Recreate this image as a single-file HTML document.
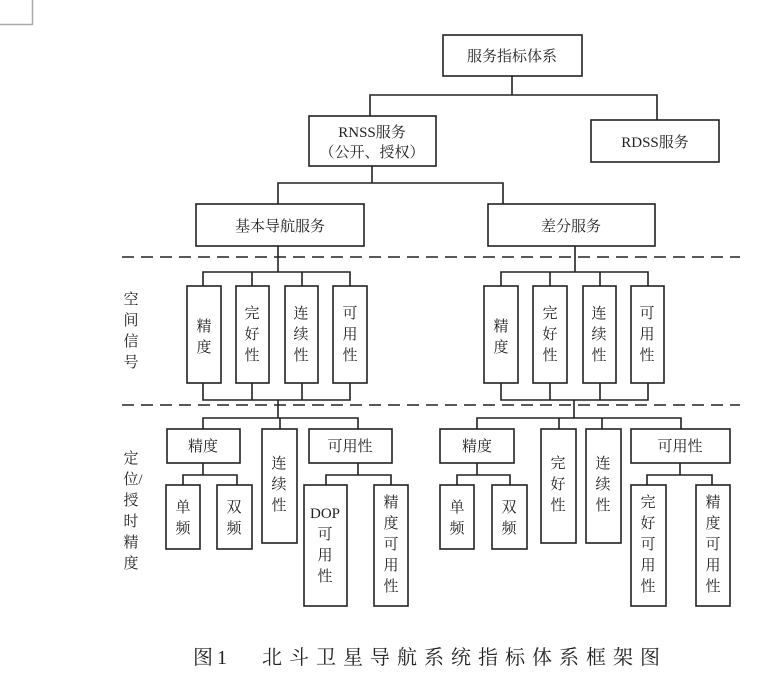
<!DOCTYPE html>
<html><head><meta charset="utf-8"><style>
html,body{margin:0;padding:0;background:#fff;}
svg{display:block;}
text{font-family:"Liberation Serif","Noto Serif CJK SC",serif;fill:#222;font-size:15px;}
</style></head><body>
<svg width="779" height="683" viewBox="0 0 779 683" xmlns="http://www.w3.org/2000/svg">
<path d="M0 24.5H32.5V0" fill="none" stroke="#aaa" stroke-width="1.5"/>
<g fill="none" stroke="#222" stroke-width="1.6">
<rect x="443" y="35" width="139" height="41"/>
<path d="M512 76V95M370 116V95H657V120"/>
<rect x="309" y="116" width="127" height="50"/>
<rect x="591" y="120" width="128" height="42"/>
<path d="M372 166V183M278 204V183H503V204"/>
<rect x="196" y="204" width="168" height="42"/>
<rect x="488" y="204" width="167" height="42"/>
<path d="M278 246V272M575 246V272"/>
<path d="M203 286V272H350V286M252 272V286M302 272V286"/>
<rect x="187" y="286" width="34" height="97"/>
<rect x="236" y="286" width="33" height="97"/>
<rect x="285" y="286" width="33" height="97"/>
<rect x="333" y="286" width="34" height="97"/>
<path d="M203 383V400H350V383M252 383V400M302 383V400M278 400V418"/>
<path d="M501 286V272H648V286M550 272V286M600 272V286"/>
<rect x="484" y="286" width="34" height="97"/>
<rect x="533" y="286" width="34" height="97"/>
<rect x="583" y="286" width="33" height="97"/>
<rect x="631" y="286" width="33" height="97"/>
<path d="M501 383V400H648V383M550 383V400M600 383V400M574 400V418"/>
<path d="M203 429V418H358V429M280 418V429"/>
<rect x="167" y="429" width="73" height="34"/>
<rect x="262" y="429" width="35" height="114"/>
<rect x="309" y="429" width="83" height="34"/>
<path d="M203 463V475M183 485V475H237V485"/>
<rect x="166" y="485" width="34" height="64"/>
<rect x="217" y="485" width="35" height="64"/>
<path d="M358 463V475M326 485V475H391V485"/>
<rect x="304" y="485" width="43" height="121"/>
<rect x="374" y="485" width="34" height="121"/>
<path d="M477 429V418H681V429M559 418V429M602 418V429"/>
<rect x="440" y="429" width="74" height="34"/>
<rect x="541" y="429" width="35" height="114"/>
<rect x="586" y="429" width="35" height="114"/>
<rect x="631" y="429" width="99" height="34"/>
<path d="M477 463V475M457 485V475H510V485"/>
<rect x="440" y="485" width="34" height="64"/>
<rect x="492" y="485" width="35" height="64"/>
<path d="M680 463V475M647 485V475H712V485"/>
<rect x="631" y="485" width="35" height="121"/>
<rect x="696" y="485" width="34" height="121"/>
</g>
<g stroke="#222" stroke-width="1.6" stroke-dasharray="12,7">
<path d="M122 257H740M122 405H740"/>
</g>
<g text-anchor="middle">
<text x="512" y="61">服务指标体系</text>
<text x="372" y="137">RNSS服务</text>
<text x="372" y="157">（公开、授权）</text>
<text x="655" y="147">RDSS服务</text>
<text x="280" y="231">基本导航服务</text>
<text x="571" y="231">差分服务</text>
<text x="204" y="331">精</text><text x="204" y="352">度</text>
<text x="252" y="318">完</text><text x="252" y="339">好</text><text x="252" y="360">性</text>
<text x="301" y="318">连</text><text x="301" y="339">续</text><text x="301" y="360">性</text>
<text x="350" y="318">可</text><text x="350" y="339">用</text><text x="350" y="360">性</text>
<text x="501" y="331">精</text><text x="501" y="352">度</text>
<text x="550" y="318">完</text><text x="550" y="339">好</text><text x="550" y="360">性</text>
<text x="599" y="318">连</text><text x="599" y="339">续</text><text x="599" y="360">性</text>
<text x="647" y="318">可</text><text x="647" y="339">用</text><text x="647" y="360">性</text>
<text x="203" y="451">精度</text>
<text x="350" y="451">可用性</text>
<text x="279" y="468">连</text><text x="279" y="489">续</text><text x="279" y="510">性</text>
<text x="183" y="512">单</text><text x="183" y="533">频</text>
<text x="234" y="512">双</text><text x="234" y="533">频</text>
<text x="325" y="518">DOP</text><text x="325" y="539">可</text><text x="325" y="560">用</text><text x="325" y="581">性</text>
<text x="391" y="507">精</text><text x="391" y="528">度</text><text x="391" y="549">可</text><text x="391" y="570">用</text><text x="391" y="591">性</text>
<text x="477" y="451">精度</text>
<text x="680" y="451">可用性</text>
<text x="558" y="468">完</text><text x="558" y="489">好</text><text x="558" y="510">性</text>
<text x="603" y="468">连</text><text x="603" y="489">续</text><text x="603" y="510">性</text>
<text x="457" y="512">单</text><text x="457" y="533">频</text>
<text x="509" y="512">双</text><text x="509" y="533">频</text>
<text x="648" y="507">完</text><text x="648" y="528">好</text><text x="648" y="549">可</text><text x="648" y="570">用</text><text x="648" y="591">性</text>
<text x="713" y="507">精</text><text x="713" y="528">度</text><text x="713" y="549">可</text><text x="713" y="570">用</text><text x="713" y="591">性</text>
<text x="131" y="304">空</text><text x="131" y="325">间</text><text x="131" y="346">信</text><text x="131" y="367">号</text>
<text x="131" y="463">定</text><text x="133" y="484">位/</text><text x="131" y="505">授</text><text x="131" y="526">时</text><text x="131" y="547">精</text><text x="131" y="568">度</text>
</g>
<text x="193" y="664" style="font-size:20px;letter-spacing:4px">图1</text>
<text x="262" y="664" style="font-size:20px;letter-spacing:7px">北斗卫星导航系统指标体系框架图</text>
</svg>
</body></html>
